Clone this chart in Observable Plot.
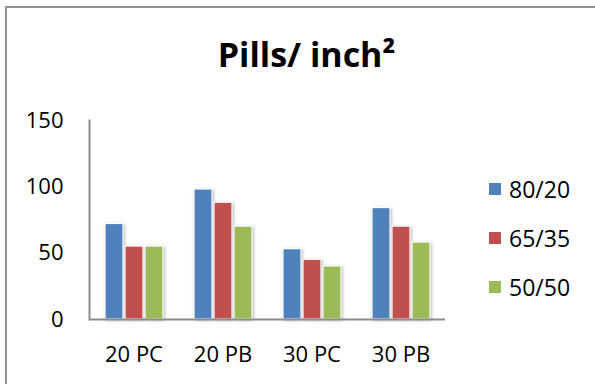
<!DOCTYPE html>
<html>
<head>
<meta charset="utf-8">
<script src="https://cdn.jsdelivr.net/npm/d3@7"></script>
<script src="https://cdn.jsdelivr.net/npm/@observablehq/plot@0.6"></script>
<style>
  html, body { margin: 0; padding: 0; width: 595px; height: 384px; overflow: hidden; background: #fff; font-family: "Open Sans", sans-serif; }
  #border { position: absolute; left: 5px; top: 6px; width: 700px; height: 500px; border-left: 2px solid #929292; border-top: 2px solid #929292; }
  #title { position: absolute; left: 0; width: 613px; top: 34px; line-height: 40px; text-align: center; font-weight: 700; font-size: 34px; color: #000; }
  #chart { position: absolute; left: 0; top: 0; }
  .row { position: absolute; left: 489px; height: 24px; display: flex; align-items: center; font-size: 23px; line-height: 24px; color: #000; }
  .sw { width: 12px; height: 12px; margin-right: 8px; }
  #chart g[aria-label="bar"] { filter: drop-shadow(1.5px 1.5px 1.5px rgba(0,0,0,0.3)); }
</style>
</head>
<body>
<div id="border"></div>
<div id="title">Pills/ inch²</div>
<div id="chart"></div>
<div id="legend"></div>
<script>
const categories = ["20 PC", "20 PB", "30 PC", "30 PB"];
const seriesNames = ["80/20", "65/35", "50/50"];
const values8020 = [72, 98, 53, 84];
const values6535 = [55, 88, 45, 70];
const values5050 = [55, 70, 40, 58];
const colors = ["#4F81BD", "#C0504D", "#9BBB59"];
const yTicks = [0, 50, 100, 150];

const seriesValues = [values8020, values6535, values5050];
const data = [];
categories.forEach((c, i) => {
  seriesNames.forEach((s, j) => {
    data.push({category: c, series: s, value: seriesValues[j][i]});
  });
});

const plot = Plot.plot({
  width: 595,
  height: 384,
  marginLeft: 89,
  marginRight: 150,
  marginTop: 120,
  marginBottom: 65,
  style: {fontFamily: "Open Sans", fontSize: "22px", color: "#000", background: "transparent"},
  fx: {domain: categories, padding: 0, label: null, axis: "bottom", tickSize: 0, tickPadding: 27},
  x: {domain: seriesNames, paddingInner: 0.1, paddingOuter: 0.775, axis: null},
  y: {domain: [0, 150], ticks: yTicks, tickSize: 0, tickPadding: 26, label: null},
  color: {domain: seriesNames, range: colors},
  marks: [
    Plot.barY(data, {fx: "category", x: "series", y: "value", fill: "series", stroke: "#fff", strokeWidth: 1.2}),
    Plot.ruleY([0], {stroke: "#8c8c8c", strokeWidth: 2}),
    Plot.frame({anchor: "left", facetAnchor: "left", stroke: "#8c8c8c", strokeWidth: 2})
  ]
});
document.getElementById("chart").appendChild(plot);

const legend = document.getElementById("legend");
const legendCenters = [189, 238, 287];
seriesNames.forEach((s, j) => {
  const row = document.createElement("div");
  row.className = "row";
  row.style.top = (legendCenters[j] - 12) + "px";
  const sw = document.createElement("div");
  sw.className = "sw";
  sw.style.background = colors[j];
  const t = document.createElement("span");
  t.textContent = s;
  row.appendChild(sw);
  row.appendChild(t);
  legend.appendChild(row);
});
</script>
</body>
</html>
